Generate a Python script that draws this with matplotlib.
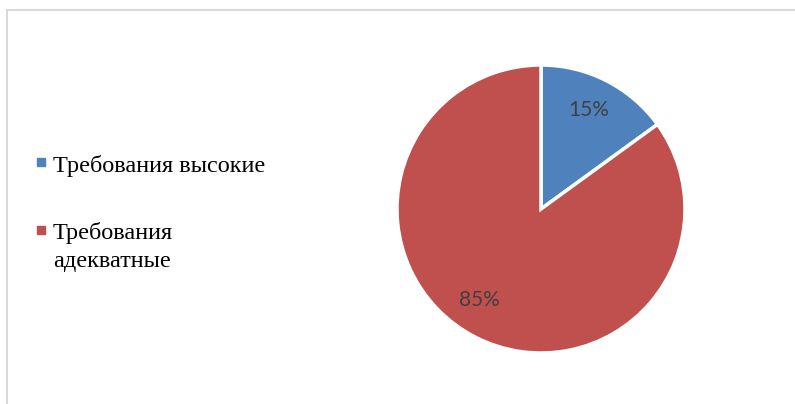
import numpy as np
import matplotlib.pyplot as plt
from matplotlib.lines import Line2D
from matplotlib.patches import Rectangle

labels = ['Требования высокие', 'Требования\nадекватные']
shares = [15, 85]
colors = ['#4f81bd', '#c0504d']

W, H = 795, 404
fig = plt.figure(figsize=(W / 100, H / 100), dpi=100)

# light grey chart frame
fig.patches.append(Rectangle((7 / W, -0.05), 1.1, (H - 10) / H + 0.05,
                             transform=fig.transFigure, fill=False,
                             edgecolor='#d9d9d9', linewidth=1.5))

ax = fig.add_axes([397 / W, 51 / H, 288 / W, 288 / H])
wedges, _, autotexts = ax.pie(
    shares, colors=colors, startangle=90, counterclock=False,
    autopct='%d%%', pctdistance=0.76,
    wedgeprops=dict(edgecolor='white', linewidth=2.5),
    textprops=dict(color='#404040', fontsize=15, family='Lato'))
for w in wedges:
    w.set_clip_on(False)
ax.set_xlim(-1, 1)
ax.set_ylim(-1, 1)

# nudge the percentage labels around the wedge centre a little
nudge = [1.5, -7]
for w, t, d in zip(wedges, autotexts, nudge):
    a = np.deg2rad((w.theta1 + w.theta2) / 2 + d)
    t.set_position((0.762 * np.cos(a), 0.762 * np.sin(a)))

# legend on the left: square marker next to the first line of each label
marker_y = [162, 230.5]
baseline_y = [171.5, 239]
line_step = 27.5
for lab, c, my, by in zip(labels, colors, marker_y, baseline_y):
    fig.add_artist(Line2D([41 / W], [1 - my / H], transform=fig.transFigure,
                          linestyle='none', marker='s', markersize=5.5,
                          color=c))
    for i, line in enumerate(lab.split('\n')):
        fig.text(53 / W, 1 - (by + i * line_step) / H, line, ha='left',
                 va='baseline', family='Liberation Serif', fontsize=17.5,
                 color='black')

fig.savefig('out.png', dpi=100)
